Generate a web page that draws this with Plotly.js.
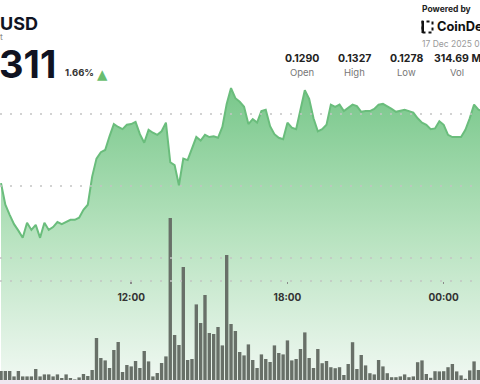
<!DOCTYPE html>
<html><head><meta charset="utf-8">
<script src="https://cdn.plot.ly/plotly-3.0.1.min.js"></script>
<style>html,body{margin:0;padding:0;background:#fff;overflow:hidden}#chart{width:480px;height:384px}</style>
</head><body><div id="chart"></div>
<script>
// ---- data ----
const startTime = '2025-12-16 07:00:00';   // first 10-minute sample
const prices = [
0.13004,0.12974,0.12960,0.12947,0.12938,0.12928,0.12949,0.12939,0.12946,0.12928,
0.12949,0.12939,0.12943,0.12950,0.12947,0.12950,0.12953,0.12953,0.12956,0.12967,
0.12974,0.13013,0.13038,0.13047,0.13050,0.13069,0.13086,0.13082,0.13079,0.13085,
0.13086,0.13089,0.13072,0.13060,0.13078,0.13074,0.13071,0.13076,0.13088,0.13033,
0.13029,0.13001,0.13038,0.13036,0.13053,0.13068,0.13063,0.13071,0.13068,0.13069,
0.13067,0.13082,0.13114,0.13136,0.13122,0.13117,0.13110,0.13086,0.13093,0.13088,
0.13104,0.13106,0.13083,0.13072,0.13067,0.13065,0.13088,0.13081,0.13079,0.13106,
0.13133,0.13121,0.13094,0.13076,0.13079,0.13085,0.13113,0.13110,0.13113,0.13104,
0.13108,0.13113,0.13111,0.13103,0.13104,0.13104,0.13107,0.13113,0.13114,0.13111,
0.13107,0.13103,0.13104,0.13106,0.13104,0.13102,0.13094,0.13088,0.13085,0.13079,
0.13080,0.13090,0.13085,0.13071,0.13068,0.13068,0.13068,0.13078,0.13094,0.13113,
0.13106,0.13104];
const volumes = [   // millions per 10 minutes
0.45,0.45,0.45,0.18,0.45,0.18,0.18,0.18,0.55,0.18,
0.28,0.28,0.18,0.28,0.10,0.28,0.10,0.03,0.13,0.30,
0.20,0.50,2.10,1.10,0.98,0.60,1.50,1.90,0.40,0.75,
0.68,0.95,0.60,1.45,0.93,0.18,0.35,0.85,1.18,8.10,
2.25,1.75,5.65,1.00,1.05,3.78,2.85,4.25,2.35,2.30,
2.65,1.73,6.25,2.80,2.45,1.40,1.23,1.78,1.00,0.60,
1.28,1.05,0.90,1.73,1.35,1.28,1.98,0.98,1.05,1.55,
2.38,1.10,0.60,1.55,0.84,0.95,0.64,0.59,0.64,0.25,
0.80,1.89,0.55,1.25,0.73,0.34,0.28,1.00,0.68,0.34,
0.14,0.14,0.18,0.28,0.14,0.18,0.89,0.98,0.30,0.11,
0.44,0.43,0.44,0.64,0.80,0.43,0.23,0.06,0.48,0.93,
0.50,0.39];
const tickTimes = ['2025-12-16 12:00:00','2025-12-16 18:00:00','2025-12-17 00:00:00'];
const tickLabels = ['12:00','18:00','00:00'];
const priceGrid = [0.1290, 0.1300, 0.1310];
const statValues = ['0.1290','0.1327','0.1278','314.69 M'];
const statLabels = ['Open','High','Low','Vol'];
const pairText = 'USD';
const subText = 't';
const priceText = '311';
const changeText = '1.66%';
const poweredText = 'Powered by';
const brandText = 'CoinDe';
const dateText = '17 Dec 2025 0';

// ---- helpers ----
function addMinutes(base, m){
  const d = new Date(Date.parse(base.replace(' ','T') + 'Z') + m*60000);
  return d.toISOString().slice(0,19).replace('T',' ');
}
const times = prices.map((_, i) => addMinutes(startTime, i*10));

const TOP = 80, BOT = 380, PH = BOT - TOP;
const PX = x => x/480;
const PY = y => (BOT - y)/PH;
// price axis: 0.1310 at y=114, 72px per 0.001
const priceAt = y => 0.1310 - (y - 114)/72000;

const FONT = 'Inter, "Open Sans", sans-serif';
function ann(text, x, y, o){
  return Object.assign({text, x:PX(x), y:PY(y), xref:'paper', yref:'paper', showarrow:false,
    xanchor:'left', yanchor:'middle', borderpad:0,
    font:{family:FONT, size:10, color:'#333'}}, o||{});
}
const statX = [301.5, 354, 406, 457];
const annotations = [
  ann(pairText, -1, 23, {font:{family:FONT, size:18, weight:700, color:'#101322'}}),
  ann(subText, -1, 37, {font:{family:FONT, size:8.5, color:'#8a8a8a'}}),
  ann(priceText, -2, 63.5, {font:{family:FONT, size:38, weight:700, color:'#101322'}}),
  ann(changeText, 64, 73, {font:{family:FONT, size:9.5, weight:700, color:'#333'}}),
  ann('▲', 95.5, 74, {font:{family:'DejaVu Sans', size:13.5, color:'#69bd6f'}}),
  ann(poweredText, 421, 9, {font:{family:FONT, size:8.5, weight:700, color:'#222'}}),
  ann(brandText, 436, 27, {font:{family:FONT, size:12.8, weight:700, color:'#111'}}),
  ann(dateText, 421, 44, {font:{family:FONT, size:8.5, color:'#9a9a9a'}}),
];
statValues.forEach((v,i)=>{
  annotations.push(ann(v, statX[i], 59, {xanchor:'center', font:{family:FONT, size:10.5, weight:700, color:'#222'}}));
  annotations.push(ann(statLabels[i], statX[i], 72.5, {xanchor:'center', font:{family:FONT, size:9.5, color:'#777'}}));
});

const dotLine = {color:'#c4c4c4', width:1.5, dash:'2px,8px'};
const shapes = [
  // price grid (dotted, drawn over the fill like the reference)
  ...priceGrid.map(p => ({type:'line', xref:'paper', yref:'y', x0:0, x1:1, y0:p, y1:p,
     line:dotLine, layer:'above'})),
  // x-axis baseline (dotted)
  {type:'line', xref:'paper', yref:'paper', x0:0, x1:1, y0:PY(281), y1:PY(281),
   line:dotLine, layer:'above'},
  // bottom strip
  {type:'rect', xref:'paper', yref:'paper', x0:0, x1:1, y0:PY(384), y1:PY(380),
   fillcolor:'#f0e7f0', line:{width:0}},
  // logo mark
  {type:'rect', xref:'paper', yref:'paper', x0:PX(422.5), x1:PX(432.5), y0:PY(32.5), y1:PY(21.5),
   line:{color:'#111', width:2, dash:'dot'}},
  {type:'rect', xref:'paper', yref:'paper', x0:PX(421.5), x1:PX(424), y0:PY(33), y1:PY(21),
   fillcolor:'#111', line:{width:0}},
];

const priceTrace = {
  x: times, y: prices, type:'scatter', mode:'lines',
  line:{color:'#6abd7c', width:2},
  fill:'tozeroy',
  fillgradient:{type:'vertical', start:priceAt(380), stop:priceAt(86),
    colorscale:[[0,'rgb(240,248,242)'],[0.5,'rgb(182,226,190)'],[1,'rgb(120,199,138)']]},
  hoverinfo:'skip'
};
const volTrace = {
  x: times, y: volumes, type:'bar', yaxis:'y2',
  marker:{color:'#687068', line:{width:0}},
  hoverinfo:'skip'
};

const layout = {
  width:480, height:384,
  margin:{l:0, r:0, t:TOP, b:384-BOT, pad:0},
  paper_bgcolor:'#ffffff', plot_bgcolor:'#ffffff',
  showlegend:false, bargap:0.22,
  xaxis:{type:'date', range:['2025-12-16 06:57:40','2025-12-17 01:23:40'],
    anchor:'free', position:PY(281),
    tickvals:tickTimes, ticktext:tickLabels,
    ticks:'outside', ticklen:2, tickwidth:1.5, tickcolor:'#8a8a8a',
    ticklabelstandoff:5,
    tickfont:{family:FONT, size:10, weight:700, color:'#333'},
    showgrid:false, zeroline:false, showline:false, fixedrange:true},
  yaxis:{range:[priceAt(BOT), priceAt(TOP)], showticklabels:false,
    showgrid:false, zeroline:false, showline:false, ticks:'', fixedrange:true},
  yaxis2:{overlaying:'y', range:[0,15], showgrid:false, showticklabels:false,
    zeroline:false, showline:false, ticks:'', fixedrange:true},
  annotations, shapes
};

Plotly.newPlot('chart', [priceTrace, volTrace], layout, {displayModeBar:false, staticPlot:true});
</script>
</body></html>
